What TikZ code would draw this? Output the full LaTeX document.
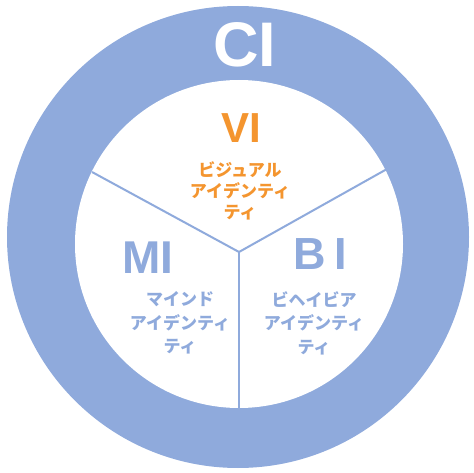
\documentclass[tikz,border=0pt]{standalone}
\usepackage{fontspec}
\setmainfont{Liberation Sans}
\newfontfamily\jpfont{Noto Sans CJK JP}
\definecolor{ciblue}{HTML}{8FAADC}
\definecolor{viorange}{HTML}{F4952F}

\begin{document}
\begin{tikzpicture}[x=1pt, y=-1pt,
	divider/.style={draw=ciblue, line width=2pt},
	bigtext/.style={font=\fontsize{#1}{#1}\selectfont\bfseries, inner sep=0pt},
	kana/.style={font=\jpfont\fontsize{17}{#1}\selectfont\bfseries, align=center, inner sep=0pt}]
	\useasboundingbox (0,0) rectangle (474,473);
	\fill[ciblue] (238,237) circle[radius=231pt];
	\fill[white] (239,244) circle[radius=164pt];
	\coordinate (hub) at (239,252);
	\coordinate (vm_end) at (92,172);
	\coordinate (vb_end) at (387,169);
	\coordinate (mb_end) at (239,408);
	\draw[divider] (hub) -- (vm_end);
	\draw[divider] (hub) -- (vb_end);
	\draw[divider] (hub) -- (mb_end);
	\node[bigtext=63, text=white] (ci) at (245,45) {CI};
	\node[bigtext=42, text=viorange] (vi) at (241,128) {VI};
	\node[kana=21, text=viorange] (vi_text) at (240,191) {ビジュアル\\アイデンティ\\ティ};
	\node[bigtext=46, text=ciblue] (mi) at (148,258) {MI};
	\node[kana=23.5, text=ciblue] (mi_text) at (180,323) {マインド\\アイデンティ\\ティ};
	\node[bigtext=45, text=ciblue] (bi) at (320,254) {B\hspace{0.2em}I};
	\node[kana=23.5, text=ciblue] (bi_text) at (314,323) {ビヘイビア\\アイデンティ\\ティ};
\end{tikzpicture}
\end{document}
